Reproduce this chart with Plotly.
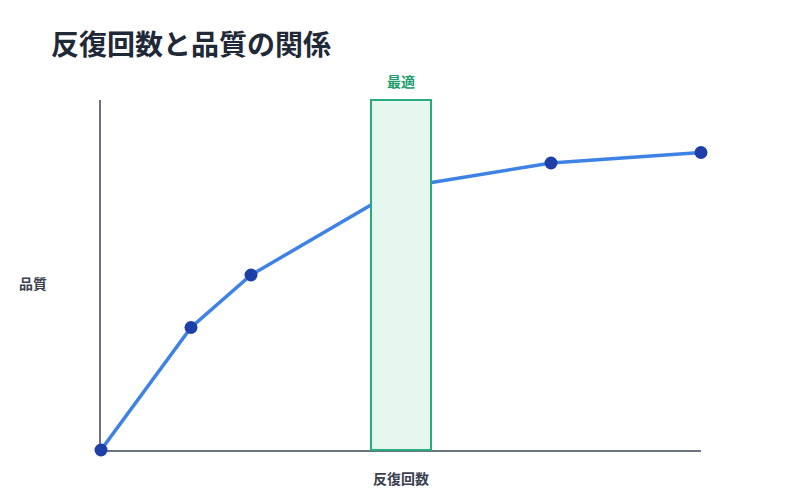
import plotly.graph_objects as go

# 反復回数 vs 品質
iterations = [0, 3, 5, 10, 15, 20]
quality = [0, 35, 50, 75, 82, 85]

optimal_start = 9
optimal_end = 11
optimal_label = "最適"

chart_title = "反復回数と品質の関係"
x_title = "反復回数"
y_title = "品質"

FONT = "Noto Sans CJK JP"

fig = go.Figure()

fig.add_trace(go.Scatter(
    x=iterations, y=quality,
    mode="lines+markers",
    line={"color": "#3f82e6", "width": 3.5},
    marker={"color": "#1e3fa8", "size": 13},
    cliponaxis=False,
    showlegend=False,
))

# optimal band, drawn over the line
fig.add_shape(type="rect", xref="x", yref="paper",
              x0=optimal_start, x1=optimal_end, y0=0, y1=1,
              fillcolor="#e6f7f0", line={"color": "#2aaa7f", "width": 2},
              layer="above")

fig.add_annotation(x=(optimal_start + optimal_end) / 2, y=1, xref="x", yref="paper",
                   yanchor="bottom", yshift=7,
                   text="<b>" + optimal_label + "</b>", showarrow=False,
                   font={"size": 14, "color": "#1e9e6e", "family": FONT})

fig.add_annotation(x=0, y=0.477, xref="paper", yref="paper",
                   xanchor="right", xshift=-52,
                   text="<b>" + y_title + "</b>", showarrow=False,
                   font={"size": 14, "color": "#3a4150", "family": FONT})

fig.add_annotation(x=0.5, y=0, xref="paper", yref="paper",
                   yanchor="middle", yshift=-28,
                   text="<b>" + x_title + "</b>", showarrow=False,
                   font={"size": 14, "color": "#3a4150", "family": FONT})

fig.update_layout(
    width=800, height=500,
    margin={"l": 93, "r": 107, "t": 92, "b": 58},
    paper_bgcolor="white", plot_bgcolor="white",
    font={"family": FONT},
    title={"text": "<b>" + chart_title + "</b>", "x": 43 / 800, "xref": "container",
           "xanchor": "left", "y": 1 - 37 / 500, "yanchor": "middle",
           "font": {"size": 28, "color": "#1f2937", "family": FONT}},
)

fig.update_xaxes(range=[0, 20], showgrid=False, zeroline=False, showticklabels=False,
                 ticks="", showline=True, linecolor="#6b7280", linewidth=2,
                 layer="below traces")
fig.update_yaxes(range=[0, 100], showgrid=False, zeroline=False, showticklabels=False,
                 ticks="", showline=True, linecolor="#6b7280", linewidth=2,
                 layer="below traces")

fig.write_html("out.html")
